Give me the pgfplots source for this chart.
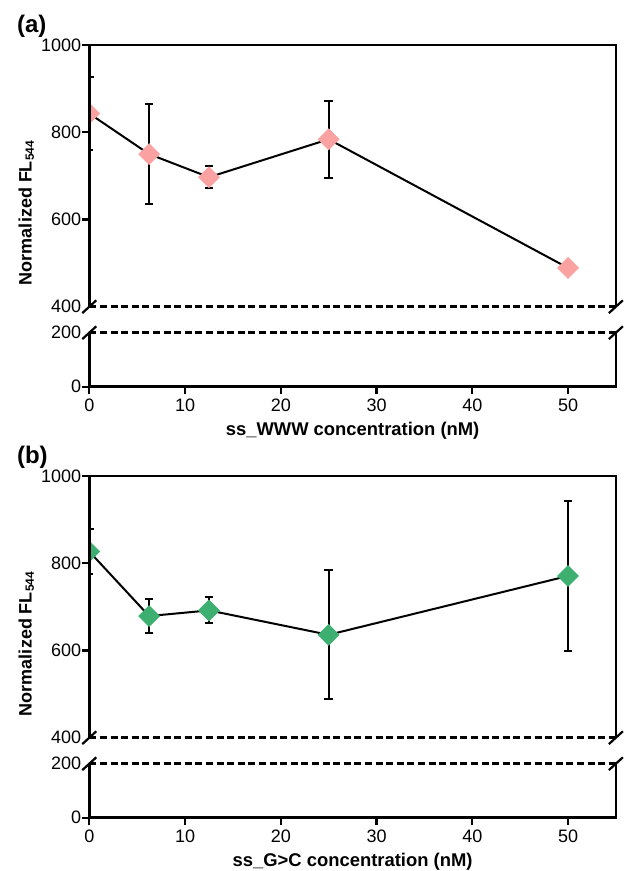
\documentclass[border=0pt]{standalone}
\usepackage{fontspec}
\setmainfont{Liberation Sans}
\usepackage{pgfplots}
\usepackage{pgfplotstable}
\pgfplotsset{compat=1.18}

\definecolor{pinkpt}{RGB}{250,162,162}
\definecolor{greenpt}{RGB}{61,176,113}

% concentration (nM), normalized FL544, error
\pgfplotstableread{
x y e
0 843 83
6.25 750 114
12.5 697 25
25 784 88
50 489 0
}\www
\pgfplotstableread{
x y e
0 827 52
6.25 679 39
12.5 692 30
25 636 148
50 771 171
}\gc

\pgfplotsset{
  brk/.style={
    scale only axis, width=263.3pt, anchor=south west,
    xmin=0, xmax=55,
    axis line style={draw=none},
    tick align=outside, major tick length=3.6pt,
    tick style={draw=black, line width=1.1pt},
    ytick pos=left, xtick pos=bottom,
    tick label style={font=\fontsize{9}{10}\selectfont},
    /pgf/number format/assume math mode=true,
    /pgf/number format/1000 sep={},
    yticklabel style={inner sep=0pt, xshift=-0.3pt},
    xticklabel style={inner sep=0pt, yshift=-2.2pt},
    clip marker paths=true,
  },
  top part/.style={brk, height=130.8pt,
    ymin=400, ymax=1000, ytick={600,800,1000},
    extra y ticks={400},
    extra y tick style={major tick length=0pt, yticklabel style={xshift=-3.6pt}},
    xtick=\empty,
    after end axis/.code={
      \draw[line width=1.25pt] (rel axis cs:0,0) -- (rel axis cs:0,1) -- (rel axis cs:1,1) -- (rel axis cs:1,0);
      \draw[line width=1.2pt, dash pattern=on 3.5pt off 1.8pt] (rel axis cs:0,0) -- (rel axis cs:1,0);
      \draw[line width=1.1pt] ([shift={(-3.5pt,-3.2pt)}]rel axis cs:0,0) -- ++(7pt,6.4pt);
      \draw[line width=1.1pt] ([shift={(-3.5pt,-3.2pt)}]rel axis cs:1,0) -- ++(7pt,6.4pt);
    }},
  bottom part/.style={brk, height=27pt,
    ymin=0, ymax=200, ytick={0},
    extra y ticks={200},
    extra y tick style={major tick length=0pt, yticklabel style={xshift=-3.6pt}},
    xtick={0,10,...,50},
    after end axis/.code={
      \draw[line width=1.25pt] (rel axis cs:0,1) -- (rel axis cs:0,0) -- (rel axis cs:1,0) -- (rel axis cs:1,1);
      \draw[line width=1.2pt, dash pattern=on 3.5pt off 1.8pt] (rel axis cs:0,1) -- (rel axis cs:1,1);
      \draw[line width=1.1pt] ([shift={(-3.5pt,-3.2pt)}]rel axis cs:0,1) -- ++(7pt,6.4pt);
      \draw[line width=1.1pt] ([shift={(-3.5pt,-3.2pt)}]rel axis cs:1,1) -- ++(7pt,6.4pt);
    }},
  errs/.style={black, line width=1pt, only marks, mark=none, forget plot,
    error bars/.cd, y dir=both, y explicit,
    error mark=-,
    error bar style={black, line width=1pt},
    error mark options={rotate=90, black, line width=1pt, mark size=2.1pt}},
}

\begin{document}
\begin{tikzpicture}
\useasboundingbox (-44.65pt,0pt) rectangle (267.35pt,435.5pt);

% ---- panel (a)
\begin{axis}[top part, at={(0pt,282.15pt)}]
\addplot[errs] table[x=x, y=y, y error=e]{\www};
\addplot[black, line width=1pt, mark=square*, mark size=3.7pt,
  mark options={rotate=45, fill=pinkpt, draw=pinkpt, line width=0.3pt}] table[x=x, y=y]{\www};
\end{axis}
\begin{axis}[bottom part, at={(0pt,242.15pt)}]
\addplot[draw=none] coordinates {(0,0)};
\end{axis}
\node[anchor=base, rotate=90, font=\fontsize{9}{10}\selectfont\bfseries] at (-28.8pt,329.25pt) {Normalized FL\textsubscript{544}};
\node[anchor=base, font=\fontsize{9.2}{10}\selectfont\bfseries] at (131.65pt,217.75pt) {ss\_WWW concentration (nM)};
\node[anchor=base west, font=\fontsize{12}{13}\selectfont\bfseries] at (-39.65pt,419pt) {(a)};

% ---- panel (b)
\begin{axis}[top part, at={(0pt,66.65pt)}]
\addplot[errs] table[x=x, y=y, y error=e]{\gc};
\addplot[black, line width=1pt, mark=square*, mark size=3.7pt,
  mark options={rotate=45, fill=greenpt, draw=greenpt, line width=0.3pt}] table[x=x, y=y]{\gc};
\end{axis}
\begin{axis}[bottom part, at={(0pt,26.65pt)}]
\addplot[draw=none] coordinates {(0,0)};
\end{axis}
\node[anchor=base, rotate=90, font=\fontsize{9}{10}\selectfont\bfseries] at (-28.8pt,113.75pt) {Normalized FL\textsubscript{544}};
\node[anchor=base, font=\fontsize{9.2}{10}\selectfont\bfseries] at (131.65pt,2.25pt) {ss\_G>C concentration (nM)};
\node[anchor=base west, font=\fontsize{12}{13}\selectfont\bfseries] at (-39.65pt,203.5pt) {(b)};
\end{tikzpicture}
\end{document}
